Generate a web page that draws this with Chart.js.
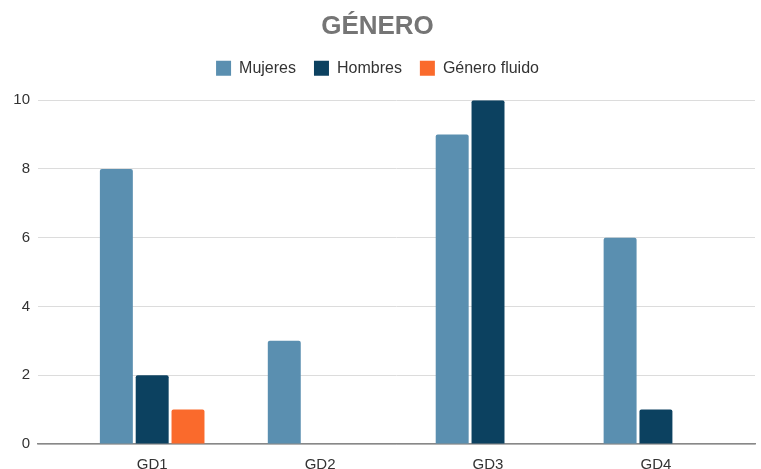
<!DOCTYPE html>
<html>
<head>
<meta charset="utf-8">
<script src="https://cdn.jsdelivr.net/npm/chart.js@4/dist/chart.umd.min.js"></script>
<style>
  html, body { margin: 0; padding: 0; background: #fff; }
  #wrap { width: 761px; height: 469px; }
</style>
</head>
<body>
<div id="wrap"><canvas id="barchart"></canvas></div>
<script>
const categories = ['GD1', 'GD2', 'GD3', 'GD4'];
const mujeres = [8, 3, 9, 6];
const hombres = [2, 0, 10, 1];
const fluido = [1, 0, 0, 0];
const yTicks = [0, 2, 4, 6, 8, 10];

Chart.defaults.font.family = 'Arial, "Liberation Sans", sans-serif';

// extra room under the legend, like the Sheets export
const legendGap = {
  id: 'legendGap',
  beforeInit(chart) {
    const fit = chart.legend.fit;
    chart.legend.fit = function () {
      fit.bind(chart.legend)();
      this.height += 14;
    };
  }
};

const ctx = document.getElementById('barchart');

const barchart = new Chart(ctx, {
  type: 'bar',
  data: {
    labels: categories,
    datasets: [
      { label: 'Mujeres', data: mujeres, backgroundColor: '#5a8fb0' },
      { label: 'Hombres', data: hombres, backgroundColor: '#0c4160' },
      { label: 'Género fluido', data: fluido, backgroundColor: '#fa6a2c' }
    ]
  },
  plugins: [legendGap],
  options: {
    responsive: true,
    maintainAspectRatio: false,
    animation: false,
    datasets: {
      bar: {
        categoryPercentage: 0.64,
        barPercentage: 0.92,
        borderRadius: 2,
        borderWidth: 0
      }
    },
    layout: { padding: { left: 0, right: 6, top: 0, bottom: 0 } },
    plugins: {
      title: {
        display: true,
        text: 'GÉNERO',
        color: '#757575',
        font: { size: 26, weight: 'bold' },
        padding: { top: 11, bottom: 0 }
      },
      legend: {
        position: 'top',
        labels: {
          boxWidth: 15,
          boxHeight: 15,
          padding: 18,
          color: '#333',
          font: { size: 16 }
        }
      },
      tooltip: { enabled: false }
    },
    scales: {
      x: {
        grid: { display: false },
        border: { color: '#888', width: 1.5 },
        ticks: { color: '#333', font: { size: 15 }, padding: 4 },
        afterFit: (scale) => { scale.height = 25; },
        afterBuildTicks: (scale) => {
          // Sheets-style outer margin around the category band
          scale._startValue = -0.68;
          scale._valueRange = 4.27;
        }
      },
      y: {
        min: 0,
        max: 10,
        afterBuildTicks: (scale) => { scale.ticks = yTicks.map(v => ({ value: v })); },
        grid: { color: '#dcdcdc', drawTicks: false },
        border: { display: false },
        ticks: { color: '#333', font: { size: 15 }, padding: 8 },
        afterFit: (scale) => { scale.width = 38; }
      }
    }
  }
});
</script>
</body>
</html>
